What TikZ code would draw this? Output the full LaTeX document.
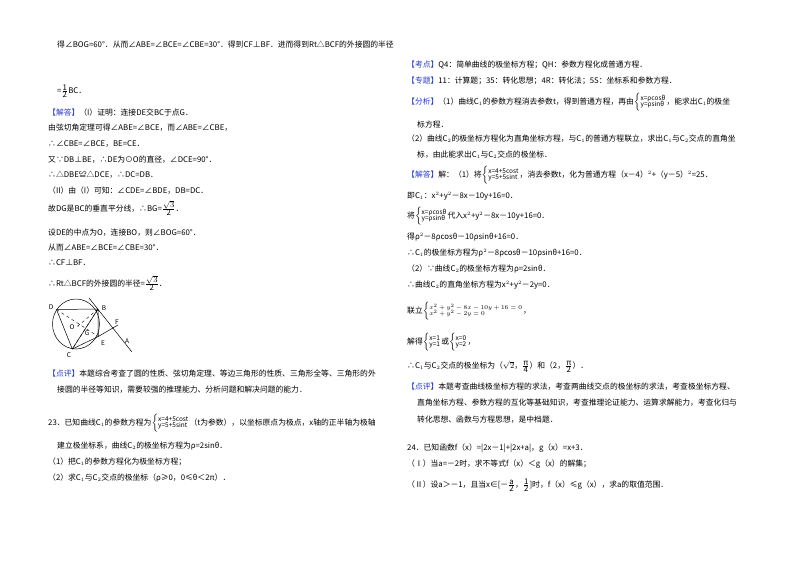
\documentclass[tikz,border=0pt]{standalone}
\usepackage{fontspec}
\setmainfont{Noto Sans CJK SC}
\definecolor{hd}{RGB}{40,60,210}
\newcommand{\hb}[1]{\textcolor{hd}{【#1】}}
\newcommand{\pr}[2]{$\left\{\begin{array}{@{}l@{}}\mbox{\fontsize{6.5}{7}\selectfont #1}\\[-3pt]\mbox{\fontsize{6.5}{7}\selectfont #2}\end{array}\right.$}
\newcommand{\fr}[2]{$\frac{\mbox{#1}}{\mbox{#2}}$}
\begin{document}
\begin{tikzpicture}[x=1pt,y=-1pt,t/.style={anchor=west,inner sep=0,font=\fontsize{7.8}{9}\selectfont},lab/.style={font=\fontsize{6.5}{7}\itshape\selectfont,inner sep=0}]
\useasboundingbox (0,0) rectangle (800,565);
\fill[white] (0,0) rectangle (800,565);
% left column
\node[t] (l1) at (57,45) {得∠BOG=60°．从而∠ABE=∠BCE=∠CBE=30°．得到CF⊥BF．进而得到Rt△BCF的外接圆的半径};
\node[t] (l2) at (57,91) {=\fr{1}{2}BC．};
\node[t] (l3) at (48,113) {\hb{解答}（I）证明：连接DE交BC于点G．};
\node[t] (l4) at (48,128) {由弦切角定理可得∠ABE=∠BCE，而∠ABE=∠CBE，};
\node[t] (l5) at (48,144) {∴∠CBE=∠BCE，BE=CE．};
\node[t] (l6) at (48,160) {又∵DB⊥BE，∴DE为⊙O的直径，∠DCE=90°．};
\node[t] (l7) at (48,175) {∴△DBE≌△DCE，∴DC=DB．};
\node[t] (l8) at (48,191) {（II）由（I）可知：∠CDE=∠BDE，DB=DC．};
\node[t] (l9) at (48,208) {故DG是BC的垂直平分线，∴BG=\fr{$\sqrt{3}$}{2}．};
\node[t] (l10) at (48,233) {设DE的中点为O，连接BO，则∠BOG=60°．};
\node[t] (l11) at (48,248) {从而∠ABE=∠BCE=∠CBE=30°．};
\node[t] (l12) at (48,263) {∴CF⊥BF．};
\node[t] (l13) at (48,283) {∴Rt△BCF的外接圆的半径=\fr{$\sqrt{3}$}{2}．};
% figure
\coordinate (Oc) at (76,324);
\coordinate (D) at (56.5,309.5);
\coordinate (B) at (98,309);
\coordinate (C) at (72.3,349);
\coordinate (E) at (98.3,336.5);
\coordinate (F) at (118,325);
\coordinate (A) at (131.7,351.7);
\coordinate (T) at (89,298);
\draw[line width=0.5pt] (Oc) circle[x radius=23.5,y radius=25];
\draw[line width=0.5pt] (D)--(B)--(C)--(D) (B)--(E)--(C) (E)--(F) (T)--(A);
\draw[line width=0.4pt,dashed] (D)--(E) (B)--(C) (B)--(78,326);
\fill (78,326) circle[radius=0.6];
\node[lab] (nD) at (51,307) {D};
\node[lab] (nB) at (104,308) {B};
\node[lab] (nC) at (69,355) {C};
\node[lab] (nE) at (103,343) {E};
\node[lab] (nO) at (72,327) {O};
\node[lab] (nG) at (87,333) {G};
\node[lab] (nF) at (117,322) {F};
\node[lab] (nA) at (127,341) {A};
\node[t] (l14) at (48,374) {\hb{点评}本题综合考查了圆的性质、弦切角定理、等边三角形的性质、三角形全等、三角形的外};
\node[t] (l15) at (57,390) {接圆的半径等知识，需要较强的推理能力、分析问题和解决问题的能力．};
\node[t] (l16) at (48,423) {23．已知曲线C$_1$的参数方程为\pr{x=4+5cost}{y=5+5sint}（t为参数），以坐标原点为极点，x轴的正半轴为极轴};
\node[t] (l17) at (57,446) {建立极坐标系，曲线C$_2$的极坐标方程为ρ=2sinθ．};
\node[t] (l18) at (48,462) {（1）把C$_1$的参数方程化为极坐标方程；};
\node[t] (l19) at (48,478) {（2）求C$_1$与C$_2$交点的极坐标（ρ≥0，0≤θ＜2π）．};
% right column
\node[t] (r1) at (407,65) {\hb{考点}Q4：简单曲线的极坐标方程；QH：参数方程化成普通方程．};
\node[t] (r2) at (407,81) {\hb{专题}11：计算题；35：转化思想；4R：转化法；5S：坐标系和参数方程．};
\node[t] (r3) at (407,102) {\hb{分析}（1）曲线C$_1$的参数方程消去参数t，得到普通方程，再由\pr{x=ρcosθ}{y=ρsinθ}，能求出C$_1$的极坐};
\node[t] (r4) at (417,125) {标方程．};
\node[t] (r5) at (407,139) {（2）曲线C$_2$的极坐标方程化为直角坐标方程，与C$_1$的普通方程联立，求出C$_1$与C$_2$交点的直角坐};
\node[t] (r6) at (417,155) {标，由此能求出C$_1$与C$_2$交点的极坐标．};
\node[t] (r7) at (407,175) {\hb{解答}解：（1）将\pr{x=4+5cost}{y=5+5sint}，消去参数t，化为普通方程（x－4）$^2$+（y－5）$^2$=25．};
\node[t] (r8) at (407,196) {即C$_1$：x$^2$+y$^2$－8x－10y+16=0．};
\node[t] (r9) at (407,216) {将\pr{x=ρcosθ}{y=ρsinθ}代入x$^2$+y$^2$－8x－10y+16=0．};
\node[t] (r10) at (407,237) {得ρ$^2$－8ρcosθ－10ρsinθ+16=0．};
\node[t] (r11) at (407,253) {∴C$_1$的极坐标方程为ρ$^2$－8ρcosθ－10ρsinθ+16=0．};
\node[t] (r12) at (407,269) {（2）∵曲线C$_2$的极坐标方程为ρ=2sinθ．};
\node[t] (r13) at (407,285) {∴曲线C$_2$的直角坐标方程为x$^2$+y$^2$－2y=0．};
\node[t] (r14) at (407,311) {联立\pr{$x^2+y^2-8x-10y+16=0$}{$x^2+y^2-2y=0$}，};
\node[t] (r15) at (407,342) {解得\pr{x=1}{y=1}或\pr{x=0}{y=2}，};
\node[t] (r16) at (407,367) {∴C$_1$与C$_2$交点的极坐标为（$\sqrt{2}$，\fr{π}{4}）和（2，\fr{π}{2}）．};
\node[t] (r17) at (407,387) {\hb{点评}本题考查曲线极坐标方程的求法，考查两曲线交点的极坐标的求法，考查极坐标方程、};
\node[t] (r18) at (417,403) {直角坐标方程、参数方程的互化等基础知识，考查推理论证能力、运算求解能力，考查化归与};
\node[t] (r19) at (417,420) {转化思想、函数与方程思想，是中档题．};
\node[t] (r20) at (407,448) {24．已知函数f（x）=|2x－1|+|2x+a|，g（x）=x+3．};
\node[t] (r21) at (407,464) {（Ⅰ）当a=－2时，求不等式f（x）＜g（x）的解集；};
\node[t] (r22) at (407,485) {（Ⅱ）设a＞－1，且当x∈[－\fr{a}{2}，\fr{1}{2}]时，f（x）≤g（x），求a的取值范围．};
\end{tikzpicture}
\end{document}
